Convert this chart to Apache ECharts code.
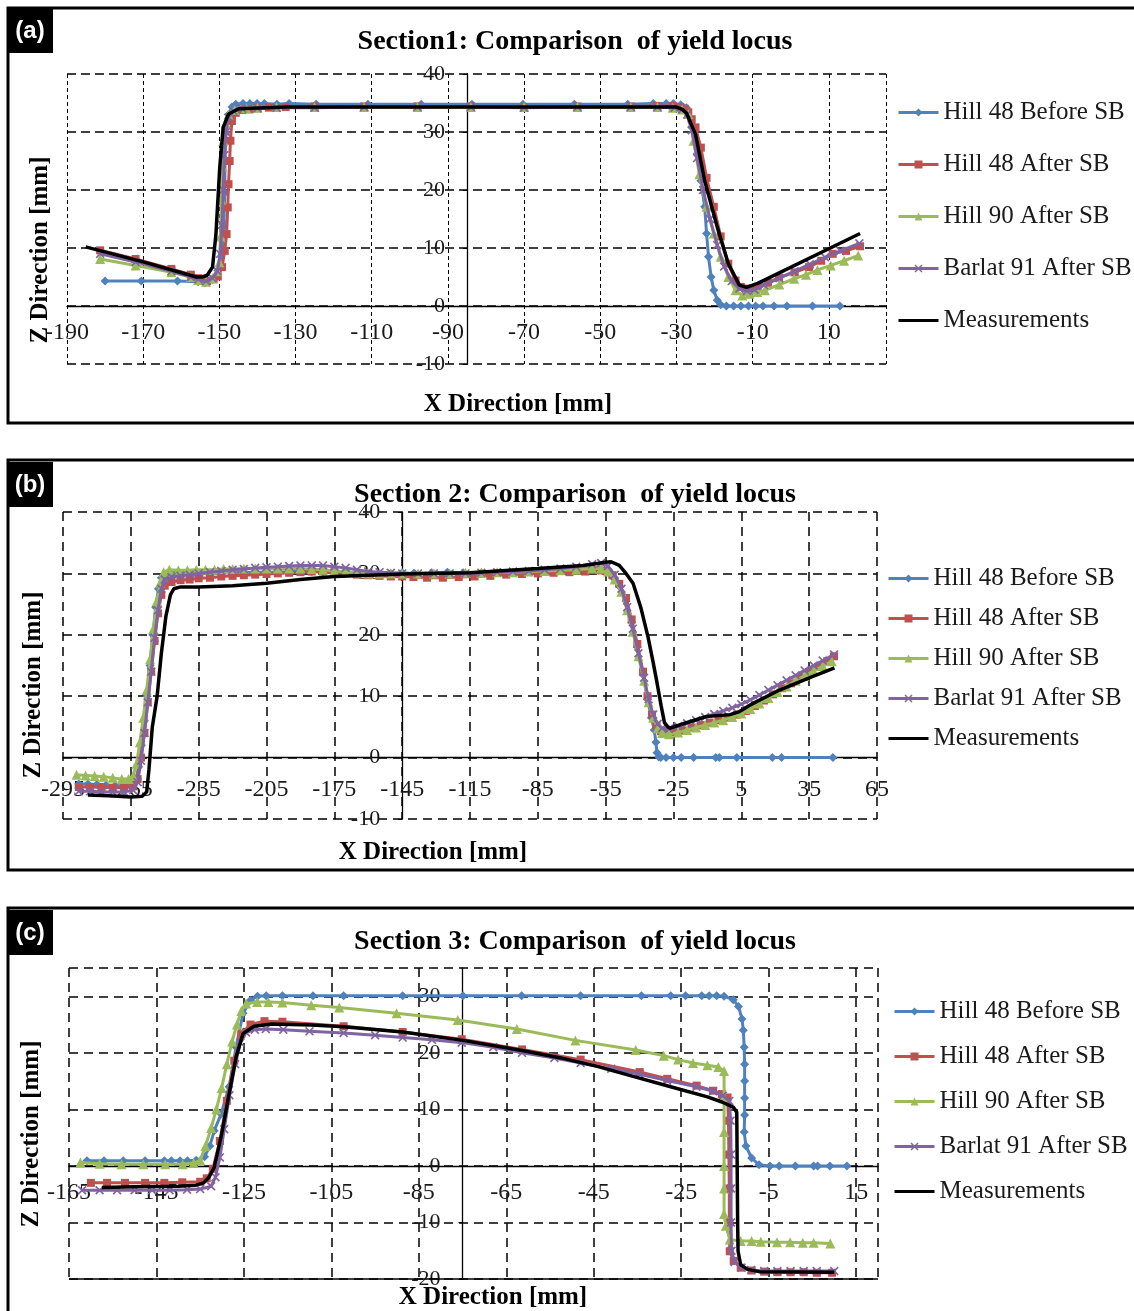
<!DOCTYPE html>
<html><head><meta charset="utf-8">
<script src="https://cdn.jsdelivr.net/npm/echarts@6/dist/echarts.min.js"></script>
<style>html,body{margin:0;padding:0;background:#fff}#c{width:1134px;height:1311px}</style>
</head><body><div id="c"></div>
<script>
// ---------- shared ----------
const seriesNames = ['Hill 48 Before SB','Hill 48 After SB','Hill 90 After SB','Barlat 91 After SB','Measurements'];
const panelLabels = ['(a)','(b)','(c)'];
const panelTitles = ['Section1: Comparison  of yield locus','Section 2: Comparison  of yield locus','Section 3: Comparison  of yield locus'];
const xTitle = 'X Direction [mm]';
const zTitle = 'Z Direction [mm]';

// axis ranges: [min, max, interval]; vertical axis crossing X value
const a_xRange = [-190, 25, 20], a_yRange = [-10, 40, 10], a_yCross = -85;
const b_xRange = [-295, 65, 30], b_yRange = [-10, 40, 10], b_yCross = -145;
const c_xRange = [-165, 20, 20], c_yRange = [-20, 35, 10], c_yCross = -75;

// ---------- Section 1 ----------
const a_hill48Before = [[-180,4.3],[-170.5,4.3],[-161,4.3],[-155.6,4.2],[-153.8,4.0],[-151.8,4.6],[-150.4,6.1],[-149.3,9.2],[-148.8,13.8],[-148.6,19.5],[-148.5,25.3],[-148.3,29.9],[-147.6,33],[-146.7,34.3],[-145.7,34.8],[-143.8,34.9],[-142,34.9],[-140.1,34.9],[-138.2,34.9],[-134.9,34.8],[-131.7,34.9],[-124.6,34.8],[-111,34.8],[-97,34.8],[-83.7,34.8],[-70.3,34.8],[-56.8,34.8],[-42.8,34.8],[-36.1,34.9],[-32.7,34.9],[-30.8,34.9],[-28.9,34.7],[-27.4,34.2],[-26,30.8],[-24.5,26.3],[-23.6,21.6],[-22.6,17.1],[-22.1,12.5],[-21.6,8.5],[-20.9,5.0],[-20.2,2.7],[-19.3,1.0],[-18.4,0.2],[-16.9,0],[-15,0],[-13.1,0],[-11.1,0],[-9.2,0],[-7.3,0],[-4.4,0],[-1,0],[5.7,0],[12.9,0]];
const a_hill48After = [[-181.3,9.6],[-172,8.1],[-162.6,6.4],[-157.5,5.4],[-155.5,4.8],[-153.2,4.3],[-151.5,4.6],[-150.4,5.1],[-149.3,6.7],[-148.6,9.5],[-148.1,12.4],[-147.8,17],[-147.6,21],[-147.3,25],[-147.1,28.5],[-146.7,31.9],[-145.7,33.3],[-144,33.8],[-142,33.9],[-140,34.1],[-137,34.2],[-132.6,34.3],[-125,34.4],[-112,34.4],[-98,34.4],[-84,34.4],[-70,34.3],[-56,34.4],[-42,34.4],[-35,34.5],[-31,34.5],[-29,34.3],[-27.8,34.0],[-26.9,33.4],[-26,32.2],[-25,30.8],[-23.6,27.3],[-22.1,22.1],[-20.2,17.1],[-18.4,12],[-16.4,7.3],[-14.5,4.4],[-13.1,3.3],[-11.6,3.0],[-10,3.0],[-8.7,3.3],[-6,4.0],[-3.1,4.9],[1,5.8],[4.8,6.7],[8,7.8],[11,9.0],[14.5,9.5],[18.2,10.3]];
const a_hill90After = [[-181.3,8.1],[-172,7.0],[-162.6,5.8],[-157.5,5.0],[-155.6,4.5],[-153.5,4.2],[-151.8,4.8],[-150.5,6.0],[-150,7.5],[-149.7,12],[-149.5,18.3],[-149.2,24],[-149,28.5],[-148.3,31.5],[-147.6,33],[-146,33.8],[-143,34.1],[-140,34.2],[-135,34.3],[-125,34.3],[-112,34.3],[-98,34.3],[-84,34.3],[-70,34.3],[-56,34.3],[-42,34.3],[-35,34.3],[-31,34.2],[-28.5,33.9],[-26.9,33.1],[-25.5,28.5],[-24,22.7],[-22.1,17.1],[-20.2,12.5],[-18.4,8.5],[-16.4,5.0],[-14.5,2.7],[-12.7,1.8],[-10.8,2.1],[-8.8,2.4],[-6.8,2.7],[-3,3.7],[0.9,4.7],[4,5.4],[7,6.2],[10.5,7.0],[14,7.8],[17.7,8.7]];
const a_barlat91After = [[-181.3,9.0],[-172,7.6],[-162.6,6.0],[-157.5,5.0],[-155.5,4.6],[-153.5,4.3],[-151.8,4.8],[-150.5,6.0],[-149.8,9],[-149.3,14],[-149,20],[-148.7,26],[-148.3,30],[-147.6,32.5],[-146.3,33.6],[-144,34],[-140,34.1],[-135,34.2],[-125,34.2],[-112,34.3],[-98,34.3],[-84,34.3],[-70,34.2],[-56,34.3],[-42,34.3],[-35,34.3],[-30.5,34.2],[-28.5,33.9],[-27.2,33.0],[-26,30.3],[-24.6,25.5],[-23,20],[-21.2,15],[-19.3,10.5],[-17.5,6.8],[-15.5,4.3],[-13.5,3.0],[-11.5,2.6],[-9.5,2.8],[-7,3.6],[-3,4.8],[1,6.0],[5,7.2],[9,8.4],[13,9.5],[18,10.8]];
const a_measurements = [[-185.1,10.2],[-170,7.6],[-156,5.0],[-154.5,5.0],[-153.2,5.3],[-151.8,6.7],[-150.9,12.4],[-149.9,23.9],[-149,30.8],[-147.6,33.1],[-144.9,34.0],[-138,34.2],[-132.6,34.3],[-100,34.3],[-60,34.3],[-30,34.3],[-28.5,33.9],[-27.4,33.3],[-25,29.6],[-22.6,21.6],[-19.3,13.6],[-16.4,7.3],[-13.5,3.6],[-11.6,3.2],[-8.7,3.9],[18.2,12.5]];

// ---------- Section 2 ----------
const b_hill48Before = [[-288,-4.3],[-284,-4.3],[-280,-4.4],[-276,-4.5],[-272,-4.6],[-268,-4.6],[-265,-4.4],[-263,-3.8],[-261.5,-1.5],[-260.3,2],[-259,6],[-257.8,10],[-256.5,15],[-255.3,20],[-254,24.5],[-252.8,27.5],[-251.5,29.3],[-249.5,29.8],[-246,29.9],[-242,29.9],[-238,29.9],[-234,30.0],[-230,30.0],[-225,30.1],[-220,30.1],[-215,30.2],[-210,30.2],[-205,30.2],[-200,30.2],[-195,30.3],[-190,30.3],[-185,30.3],[-180,30.2],[-175,30.1],[-170,30.1],[-165,30.0],[-160,29.9],[-155,29.9],[-150,30.0],[-145,30.1],[-140,30.0],[-132,30.1],[-125,30.2],[-118,30.1],[-110,30.1],[-102,30.1],[-95,30.1],[-88,30.2],[-80,30.3],[-72,30.4],[-64,30.5],[-58,30.5],[-55,30.2],[-52,29.4],[-49,27.9],[-46,25.5],[-43.5,22],[-41,18],[-38.5,13.5],[-36.5,9.5],[-34.8,6.5],[-33.5,4.5],[-32.8,2.5],[-32.3,0.8],[-31.5,0.1],[-30.6,0],[-28.3,0],[-25,0],[-21.6,0],[-16.1,0],[-6.3,0],[-4.7,0],[3.0,0],[18.7,0],[22.8,0],[45.5,0]];
const b_hill48After = [[-288,-4.8],[-283,-4.8],[-278,-4.8],[-273,-4.9],[-268,-4.9],[-264,-4.7],[-262,-3.5],[-260.5,0],[-259,4],[-257.5,9],[-256,14],[-254.5,19],[-253,23.5],[-251.5,26.5],[-250,28],[-247,28.6],[-243,28.9],[-239,29.0],[-235,29.2],[-230,29.3],[-225,29.5],[-220,29.6],[-215,29.7],[-210,29.8],[-205,29.9],[-200,30.0],[-195,30.1],[-190,30.2],[-185,30.3],[-180,30.3],[-175,30.2],[-170,30.0],[-165,29.8],[-160,29.7],[-155,29.6],[-150,29.5],[-145,29.5],[-140,29.4],[-134,29.3],[-127,29.3],[-120,29.4],[-113,29.5],[-106,29.6],[-99,29.8],[-92,29.9],[-85,30.0],[-78,30.1],[-71,30.2],[-64,30.3],[-58,30.5],[-55,30.4],[-52,29.7],[-49,28.3],[-46,26],[-43.5,22.5],[-41,18.5],[-38.5,14],[-36.5,10],[-34.5,7],[-32.5,5.2],[-30.5,4.3],[-28,4.0],[-25,4.1],[-21,4.4],[-17,4.9],[-13,5.3],[-9,5.7],[-5,6.1],[-1,6.5],[3,7.0],[7,7.6],[11,8.4],[15,9.3],[19,10.3],[23,11.3],[27,12.1],[31,13.0],[35,13.9],[39,14.8],[43,15.7],[46,16.5]];
const b_hill90After = [[-289,-2.8],[-285,-2.9],[-281,-3.0],[-277,-3.1],[-273,-3.3],[-269,-3.5],[-266,-3.5],[-264,-3.0],[-262.5,-1],[-261,2.5],[-259.5,6.5],[-258,11],[-256.5,16],[-255,21],[-253.5,25.5],[-252,28.5],[-250.5,30.2],[-248,30.6],[-244,30.5],[-240,30.5],[-236,30.6],[-232,30.6],[-228,30.6],[-224,30.7],[-220,30.7],[-215,30.8],[-210,30.8],[-205,30.8],[-200,30.8],[-195,30.8],[-190,30.8],[-185,30.7],[-180,30.6],[-175,30.4],[-170,30.3],[-165,30.1],[-160,30.0],[-155,30.0],[-150,30.0],[-145,30.0],[-138,30.0],[-131,30.0],[-124,30.0],[-117,30.1],[-110,30.1],[-103,30.2],[-96,30.2],[-89,30.3],[-82,30.4],[-75,30.5],[-68,30.6],[-61,30.8],[-57,30.8],[-54,30.3],[-51,29],[-48,27],[-45.5,24],[-43,20.5],[-40.5,16.5],[-38,12.5],[-36,9],[-34,6.5],[-32,4.8],[-30,4.0],[-27,3.8],[-23,4.1],[-19,4.5],[-15,4.9],[-11,5.3],[-7,5.7],[-3,6.1],[1,6.6],[5,7.2],[9,7.9],[13,8.8],[17,9.7],[21,10.7],[25,11.6],[29,12.5],[33,13.3],[37,14.1],[41,14.9],[45,15.7]];
const b_barlat91After = [[-288,-5.5],[-283,-5.5],[-278,-5.6],[-273,-5.6],[-268,-5.6],[-264,-5.3],[-262,-4],[-260.5,-0.5],[-259,4],[-257.5,9],[-256,14],[-254.5,19.5],[-253,24],[-251.5,27.5],[-250,29],[-247,29.4],[-243,29.6],[-239,29.8],[-235,30.0],[-230,30.2],[-225,30.4],[-220,30.6],[-215,30.7],[-210,30.9],[-205,31.0],[-200,31.1],[-195,31.2],[-190,31.3],[-185,31.3],[-180,31.3],[-175,31.1],[-170,30.9],[-165,30.6],[-160,30.3],[-155,30.2],[-150,30.1],[-145,30.0],[-138,30.0],[-131,30.0],[-124,30.0],[-117,30.0],[-110,30.1],[-103,30.2],[-96,30.3],[-89,30.4],[-82,30.6],[-75,30.8],[-68,31.1],[-61,31.5],[-57,31.7],[-54,31.2],[-51,29.8],[-48,27.5],[-45.5,24.5],[-43,21],[-40.5,17],[-38,13],[-36,9.5],[-34,7],[-32,5.5],[-30,4.8],[-27,4.7],[-23,5.1],[-19,5.6],[-15,6.1],[-11,6.6],[-7,7.1],[-3,7.6],[1,8.1],[5,8.7],[9,9.4],[13,10.2],[17,11.0],[21,11.8],[25,12.6],[29,13.4],[33,14.2],[37,15.0],[41,15.8],[46,16.8]];
const b_measurements = [[-284,-6.1],[-275,-6.2],[-265,-6.4],[-260,-6.3],[-258,-5.6],[-257,-2],[-255.5,5],[-253.4,9.9],[-251.5,17],[-249.5,23],[-247.5,26.5],[-246,27.5],[-243,27.8],[-235,27.8],[-220,28],[-205,28.4],[-190,29],[-175,29.5],[-160,29.7],[-145,29.9],[-115,30.1],[-85,30.8],[-65,31.3],[-55,31.8],[-52.6,31.9],[-49,31.3],[-46,30],[-42.9,28.4],[-39.5,24.5],[-36.3,19.7],[-34,15.5],[-32.3,12.2],[-30.5,8.5],[-29,5.7],[-27.5,5.0],[-26.5,4.8],[-20,5.6],[-10.4,6.7],[0,7.0],[4.2,7.5],[10,8.8],[21.9,11],[35,13],[46.2,14.6]];

// ---------- Section 3 ----------
const c_hill48Before = [[-160.9,0.9],[-157,0.9],[-152.6,0.9],[-147.6,0.9],[-143.2,0.9],[-141.6,0.9],[-139.6,0.9],[-137.9,0.9],[-135.9,1.0],[-134,1.6],[-132.8,3.5],[-131.8,6.2],[-130.2,9.2],[-128.4,14],[-126.8,21],[-125.2,27],[-123.5,29.3],[-121.9,30],[-119.9,30.1],[-116.2,30.1],[-109.2,30.1],[-102.2,30.1],[-88.7,30.1],[-74.9,30.1],[-61.5,30.1],[-48,30.1],[-34.1,30.1],[-27.4,30.1],[-24,30.1],[-20.3,30.1],[-18.6,30.1],[-16.9,30.1],[-15.2,30.0],[-13.1,29.4],[-11.9,28.2],[-11.1,26],[-10.8,24],[-10.6,21],[-10.5,18],[-10.5,15],[-10.5,12],[-10.5,9],[-10.6,6],[-10.2,3.5],[-8.9,1.4],[-7.2,0.2],[-4.7,0],[-2.6,0],[1.1,0],[5.3,0],[6.2,0],[9.0,0],[12.9,0]];
const c_hill48After = [[-160,-3.0],[-156.3,-3.0],[-152.2,-3.0],[-147.6,-3.0],[-143.2,-3.0],[-139.1,-2.9],[-135,-2.8],[-133.5,-2.2],[-132.1,-0.5],[-130.5,4.4],[-128.9,11.5],[-127.2,18.6],[-125.6,23.3],[-123.5,25],[-120.3,25.6],[-116.2,25.5],[-102.2,24.7],[-88.7,23.7],[-75.2,22.4],[-61.4,20.6],[-48,18.8],[-34.5,16.6],[-28.2,15.4],[-21.5,14.2],[-17.7,13.3],[-15.7,12.7],[-14.4,12.1],[-14.2,8],[-14.1,2],[-14.0,-4],[-14.0,-10],[-13.9,-15.1],[-13,-16.8],[-11.4,-18],[-8.9,-18.5],[-6,-18.7],[-3,-18.8],[0,-18.8],[3,-18.8],[6,-18.9],[9.5,-18.9]];
const c_hill90After = [[-162.4,0.6],[-158,0.4],[-153,0.3],[-148,0.3],[-143,0.3],[-139,0.3],[-136.5,0.5],[-135,1.0],[-133.8,3.5],[-132.5,6.7],[-131.3,10],[-130.1,13.8],[-128.9,18],[-127.7,22],[-126.6,25],[-125.6,27.4],[-124.5,28.7],[-122,29],[-119.4,29],[-116.2,28.9],[-109.6,28.4],[-103.2,28.0],[-90.1,27.0],[-76.1,25.8],[-62.6,24.2],[-49.2,22.2],[-35.4,20.5],[-29,19.5],[-25.7,18.8],[-22.3,18.2],[-19,17.8],[-16.5,17.5],[-15.2,16.8],[-15.2,12],[-15.2,6],[-15.2,0],[-15.2,-4],[-15.2,-8.5],[-14.8,-10.6],[-13.9,-13],[-11.4,-13.3],[-8.9,-13.3],[-6.8,-13.4],[-3.1,-13.5],[-0.1,-13.5],[2.8,-13.6],[5.3,-13.6],[9.1,-13.7]];
const c_barlat91After = [[-162,-4.3],[-158,-4.3],[-154,-4.3],[-150,-4.3],[-146,-4.3],[-142,-4.3],[-138,-4.2],[-135,-4.1],[-132.5,-3.6],[-131.5,-2],[-130.5,1.5],[-129.5,6.5],[-128.3,12.5],[-127,18],[-125.8,21.8],[-124.5,23.6],[-122.5,24.1],[-120,24.2],[-116,24.1],[-110,23.8],[-102.2,23.5],[-95,23.1],[-88.7,22.7],[-82,22.3],[-75.2,21.8],[-68,21.0],[-61.4,20.0],[-54,19.1],[-48,18.2],[-41,17.2],[-34.5,16.2],[-28.2,15.1],[-21.5,14.0],[-17.7,13.2],[-15.5,12.4],[-14,11.5],[-13.7,8],[-13.6,2],[-13.6,-4],[-13.6,-10],[-13.5,-15],[-12.8,-17],[-11.2,-18],[-9,-18.4],[-6,-18.6],[-3,-18.6],[0,-18.6],[3,-18.6],[6,-18.6],[10,-18.6]];
const c_measurements = [[-157.5,-3.8],[-150,-3.7],[-140,-3.6],[-136,-3.4],[-134.2,-3.0],[-133,-2],[-131.8,-0.3],[-130.1,5.6],[-128.4,12.7],[-126.8,19.2],[-125.2,23.4],[-122.7,24.7],[-118.6,25.1],[-109.6,24.9],[-102.2,24.6],[-88.7,23.7],[-74.9,22.2],[-61.4,20.4],[-52.5,19.1],[-44.2,17.6],[-35.8,15.8],[-27.4,14.0],[-19,12.2],[-15.7,11.3],[-13.1,10.4],[-12.3,9.5],[-12.2,0],[-12.1,-10],[-12.0,-15.1],[-11.4,-17.5],[-9.8,-18.3],[-7.2,-18.7],[10,-18.8]];

// ---------- styling / layout ----------
const colors = ['#4F81BD','#C0504D','#9BBB59','#8064A2','#000000'];
const symbols = ['diamond','rect','triangle','path://M0,1.3L1.3,0L5,3.7L8.7,0L10,1.3L6.3,5L10,8.7L8.7,10L5,6.3L1.3,10L0,8.7L3.7,5Z','none'];
const symbolSizes = [9,8,10,9,0];
const lineWidths = [3,3,3,3,3.5];
const SERIF = '"Liberation Serif","Times New Roman",serif';

const panels = [
  {grid:{left:67,top:74,width:819,height:290}, xr:a_xRange, yr:a_yRange, cross:a_yCross, data:[a_hill48Before,a_hill48After,a_hill90After,a_barlat91After,a_measurements],
   xGap:15, yMargin:22, hDash:[9,5], vDash:[4,3], vW:1, hW:1.5,
   frame:[8,8,1140,415], label:[7,8], titleY:42, zT:[41,250], xT:[518,405], legend:{left:897,top:100,gap:27}},
  {grid:{left:63,top:512,width:814,height:307}, xr:b_xRange, yr:b_yRange, cross:b_yCross, data:[b_hill48Before,b_hill48After,b_hill90After,b_barlat91After,b_measurements],
   xGap:20, yMargin:22, hDash:[9,6], vDash:[9,6], vW:1.5, hW:1.5,
   frame:[8,460,1140,410], label:[7,462], titleY:495, zT:[34,685], xT:[433,853], legend:{left:887,top:566,gap:15}},
  {grid:{left:69,top:968,width:809,height:311}, xr:c_xRange, yr:c_yRange, cross:c_yCross, data:[c_hill48Before,c_hill48After,c_hill90After,c_barlat91After,c_measurements],
   xGap:15, yMargin:22, hDash:[9,6], vDash:[9,6], vW:1.5, hW:1.5,
   frame:[8,908,1140,430], label:[7,910], titleY:942, zT:[32,1134], xT:[493,1298], legend:{left:893,top:999,gap:20}}
];

const option = {animation:false, grid:[], xAxis:[], yAxis:[], series:[], legend:[], graphic:[]};

panels.forEach((p,pi)=>{
  option.grid.push(Object.assign({containLabel:false}, p.grid));
  const hideXMax = (p.xr[1]-p.xr[0]) % p.xr[2] !== 0;
  const hideYMax = (p.yr[1]-p.yr[0]) % p.yr[2] !== 0;
  // labels sit below the zero line (axis crosses at Z = 0)
  const zeroFromBottom = p.grid.height * (0 - p.yr[0]) / (p.yr[1] - p.yr[0]);
  option.xAxis.push({type:'value', gridIndex:pi, min:p.xr[0], max:p.xr[1], interval:p.xr[2],
    axisLine:{show:true, onZero:true, lineStyle:{color:'#000', width:1.3}},
    axisTick:{show:false},
    axisLabel:{margin:p.xGap - zeroFromBottom, fontFamily:SERIF, fontSize:24, color:'#1a1a1a', showMaxLabel:!hideXMax, showMinLabel:true},
    splitLine:{show:true, lineStyle:{color:'#000', type:p.vDash, width:p.vW}}});
  const offset = -((p.cross - p.xr[0])/(p.xr[1]-p.xr[0]))*p.grid.width;
  option.yAxis.push({type:'value', gridIndex:pi, min:p.yr[0], max:p.yr[1], interval:p.yr[2], position:'left', offset:offset,
    axisLine:{show:true, onZero:false, lineStyle:{color:'#000', width:1.3}},
    axisTick:{show:true, length:4, lineStyle:{color:'#000'}},
    axisLabel:{margin:p.yMargin, fontFamily:SERIF, fontSize:22, color:'#1a1a1a', showMaxLabel:!hideYMax},
    splitLine:{show:true, lineStyle:{color:'#000', type:p.hDash, width:p.hW}}});
  p.data.forEach((d,i)=>{
    const s = {type:'line', name:seriesNames[i], xAxisIndex:pi, yAxisIndex:pi, data:d,
      symbol:symbols[i], symbolSize:symbolSizes[i], showSymbol:i<4, showAllSymbol:true,
      lineStyle:{width:lineWidths[i], color:colors[i]}, itemStyle:{color:colors[i]},
      emphasis:{disabled:true}, z:2+i, clip:true};
    if (pi===2 && i===4) {
      s.markLine = {silent:true, symbol:'none', label:{show:false}, animation:false,
        lineStyle:{color:'#000', type:'solid', width:1.5}, data:[{yAxis:p.yr[0]}]};
    }
    option.series.push(s);
  });
  option.legend.push({show:true, orient:'vertical', left:p.legend.left, top:p.legend.top, itemGap:p.legend.gap,
    itemWidth:40, itemHeight:10, selectedMode:false, padding:0,
    lineStyle:{width:3},
    data:seriesNames.map((n,i)=> i===4 ? {name:n, itemStyle:{color:'rgba(0,0,0,0)', borderWidth:0, opacity:0}} : n),
    textStyle:{fontFamily:SERIF, fontSize:25, color:'#1a1a1a', lineHeight:25}});
  // frame
  option.graphic.push({type:'rect', silent:true, z:0, shape:{x:p.frame[0], y:p.frame[1], width:p.frame[2], height:p.frame[3]},
    style:{fill:'none', stroke:'#000', lineWidth:3}});
  // panel label box
  option.graphic.push({type:'rect', silent:true, z:10, shape:{x:p.label[0], y:p.label[1], width:46, height:45}, style:{fill:'#000'}});
  option.graphic.push({type:'text', silent:true, z:11, x:p.label[0]+23, y:p.label[1]+23,
    style:{text:panelLabels[pi], fill:'#fff', font:'bold 24px "Liberation Sans",Arial,sans-serif', align:'center', verticalAlign:'middle', textAlign:'center', textVerticalAlign:'middle'}});
  // title
  option.graphic.push({type:'text', silent:true, z:11, x:575, y:p.titleY,
    style:{text:panelTitles[pi], fill:'#000', font:'bold 28px '+SERIF, align:'center', verticalAlign:'middle', textAlign:'center', textVerticalAlign:'middle'}});
  // axis titles
  option.graphic.push({type:'text', silent:true, z:11, x:p.xT[0], y:p.xT[1],
    style:{text:xTitle, fill:'#000', font:'bold 25px '+SERIF, align:'center', verticalAlign:'middle', textAlign:'center', textVerticalAlign:'middle'}});
  option.graphic.push({type:'text', silent:true, z:11, x:p.zT[0], y:p.zT[1], rotation:Math.PI/2,
    style:{text:zTitle, fill:'#000', font:'bold 25px '+SERIF, align:'center', verticalAlign:'middle', textAlign:'center', textVerticalAlign:'middle'}});
});

const chart = echarts.init(document.getElementById('c'), null, {renderer:'canvas'});
chart.setOption(option);
</script>
</body></html>
